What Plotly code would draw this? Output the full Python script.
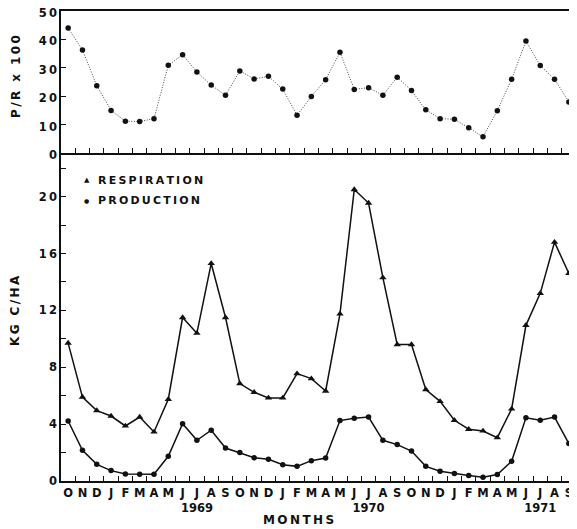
import plotly.graph_objects as go

# ---- data ----
months = ["O", "N", "D",
          "J", "F", "M", "A", "M", "J", "J", "A", "S", "O", "N", "D",
          "J", "F", "M", "A", "M", "J", "J", "A", "S", "O", "N", "D",
          "J", "F", "M", "A", "M", "J", "J", "A", "S"]
year_labels = {9: "1969", 21: "1970", 33: "1971"}
pr_x100 = [44, 36.3, 23.7, 15.0, 11.2, 11.1, 12.1, 30.9, 34.6, 28.5, 23.9, 20.3,
           28.9, 26.1, 27.0, 22.5, 13.3, 19.9, 25.8, 35.5, 22.4, 23.0, 20.3, 26.7,
           22.0, 15.2, 12.1, 11.9, 8.9, 5.7, 14.9, 26.0, 39.4, 30.8, 26.0, 18.0]
respiration = [9.7, 5.9, 4.95, 4.57, 3.87, 4.5, 3.45, 5.75, 11.5, 10.4, 15.3, 11.5,
               6.85, 6.24, 5.84, 5.84, 7.55, 7.2, 6.33, 11.75, 20.5, 19.55, 14.3, 9.6,
               9.6, 6.43, 5.6, 4.27, 3.64, 3.52, 3.05, 5.07, 10.95, 13.2, 16.8, 14.6]
production = [4.22, 2.16, 1.17, 0.73, 0.49, 0.47, 0.47, 1.74, 4.03, 2.86, 3.57, 2.32,
              2.0, 1.64, 1.53, 1.15, 1.03, 1.43, 1.62, 4.25, 4.41, 4.5, 2.86, 2.56,
              2.11, 1.03, 0.68, 0.52, 0.38, 0.26, 0.45, 1.39, 4.45, 4.27, 4.5, 2.63]
pr_ticks = [0, 10, 20, 30, 40, 50]
kg_ticks = [0, 4, 8, 12, 16, 20]

idx = list(range(len(months)))
half = [i + 0.5 for i in idx[:-1]]
year_breaks = [i + 0.5 for i in idx[:-1] if months[i] == "D"]
ticktext = [m + ("<br>" + year_labels[i] if i in year_labels else "") for i, m in enumerate(months)]

FONT = "DejaVu Sans"
BLACK = "#111"
XR = [-0.5, len(months) - 0.5]
SPLIT = (481 - 153) / 470
YR_BOT = [0, 23.07]
YR_TOP = [0, 50]
TICKFONT = dict(family=FONT, size=11.5, color=BLACK, weight="bold")

def spaced(s):
    return "\u2009".join(s)

fig = go.Figure()
fig.add_trace(go.Scatter(x=idx, y=pr_x100, xaxis="x2", yaxis="y2", mode="lines+markers",
                         line=dict(color="#444", width=1, dash="1px,1.6px"),
                         marker=dict(symbol="circle", size=5.5, color=BLACK),
                         showlegend=False))
fig.add_trace(go.Scatter(x=idx, y=respiration, xaxis="x", yaxis="y", mode="lines+markers",
                         line=dict(color=BLACK, width=1.5),
                         marker=dict(symbol="triangle-up", size=6.5, color=BLACK),
                         name="RESPIRATION", showlegend=False))
fig.add_trace(go.Scatter(x=idx, y=production, xaxis="x", yaxis="y", mode="lines+markers",
                         line=dict(color=BLACK, width=1.5),
                         marker=dict(symbol="circle", size=5.5, color=BLACK),
                         name="PRODUCTION", showlegend=False))

common_x = dict(range=XR, showgrid=False, zeroline=False, automargin=False)
common_y = dict(showgrid=False, zeroline=False, automargin=False,
                ticklabeloverflow="allow", tickfont=TICKFONT)
fig.update_layout(
    width=577, height=529,
    # the page body adds an 8px offset; margins compensate so the plot lands where the reference has it
    margin=dict(l=53, r=9, t=3, b=56),
    paper_bgcolor="white", plot_bgcolor="white",
    font=dict(family=FONT, size=12, color=BLACK),
    xaxis=dict(**common_x, anchor="y", domain=[0, 1], showline=True, linecolor=BLACK, linewidth=1.5,
               tickmode="array", tickvals=idx, ticktext=ticktext, ticks="", tickangle=0,
               tickfont=TICKFONT,
               minor=dict(tickmode="array", tickvals=half, ticks="inside", ticklen=5,
                          tickwidth=1, tickcolor=BLACK)),
    xaxis3=dict(**common_x, overlaying="x", anchor="y", side="bottom", matches="x",
                showline=False, tickmode="array", tickvals=year_breaks, ticks="outside",
                ticklen=17, tickwidth=1.5, tickcolor=BLACK, showticklabels=False),
    xaxis4=dict(**common_x, overlaying="x", anchor="y", side="top", matches="x",
                showline=False, tickmode="array", tickvals=year_breaks, ticks="inside",
                ticklen=10, tickwidth=1.5, tickcolor=BLACK, showticklabels=False,
                minor=dict(tickmode="array", tickvals=half, ticks="inside", ticklen=5,
                           tickwidth=1, tickcolor=BLACK)),
    xaxis2=dict(**common_x, anchor="y2", matches="x", showline=True, mirror=True,
                linecolor=BLACK, linewidth=1.5, showticklabels=False, ticks="",
                tickmode="array", tickvals=idx,
                minor=dict(tickmode="array", tickvals=half, ticks="inside", ticklen=5,
                           tickwidth=1, tickcolor=BLACK)),
    yaxis=dict(**common_y, domain=[0, SPLIT], range=YR_BOT, anchor="x",
               showline=True, linecolor=BLACK, linewidth=1.5,
               tickmode="array", tickvals=list(range(0, 23, 2)),
               ticktext=[spaced(str(v)) if v in kg_ticks else "" for v in range(0, 23, 2)],
               ticks="inside", ticklen=5, tickwidth=1, tickcolor=BLACK),
    yaxis3=dict(**common_y, overlaying="y", side="right", anchor="x", range=YR_BOT,
                showline=False, tickmode="array",
                tickvals=list(range(2, 23, 2)), ticks="inside", ticklen=5, tickwidth=1,
                tickcolor=BLACK, showticklabels=False),
    yaxis2=dict(**common_y, domain=[SPLIT, 1], range=YR_TOP, anchor="x2",
                showline=True, linecolor=BLACK, linewidth=1.5, ticklabelshift=2,
                tickmode="array", tickvals=pr_ticks, ticktext=[spaced(str(v)) for v in pr_ticks],
                ticks="inside", ticklen=5, tickwidth=1, tickcolor=BLACK),
    yaxis4=dict(**common_y, overlaying="y2", side="right", anchor="x2", range=YR_TOP,
                showline=False, tickmode="array", tickvals=pr_ticks[1:-1],
                ticks="inside", ticklen=5, tickwidth=1, tickcolor=BLACK, showticklabels=False),
)

# positions below are in reference-page pixels, converted to paper fractions of the plot area
def px_x(p):
    return (p - 61) / 515

def px_y(p):
    return (481 - p) / 470

ann = [
    dict(text=spaced("P/R x 100"), x=px_x(16), y=px_y(77), textangle=-90, font_size=12),
    dict(text=spaced("KG C/HA"), x=px_x(15), y=px_y(311), textangle=-90, font_size=12),
    dict(text=spaced("MONTHS"), x=px_x(298), y=px_y(520), font_size=12),
    dict(text="▲", x=px_x(86.7), y=px_y(180), font_size=7),
    dict(text="●", x=px_x(86.7), y=px_y(200), font_size=6),
    dict(text=spaced("RESPIRATION"), x=px_x(96), y=px_y(180), xanchor="left", font_size=11),
    dict(text=spaced("PRODUCTION"), x=px_x(96), y=px_y(200), xanchor="left", font_size=11),
]
for a in ann:
    a.setdefault("xanchor", "center")
    fig.add_annotation(xref="paper", yref="paper", showarrow=False, yanchor="middle",
                       font=dict(family=FONT, color=BLACK, size=a.pop("font_size"),
                                 weight="bold"), **a)

fig.write_html("out.html")
